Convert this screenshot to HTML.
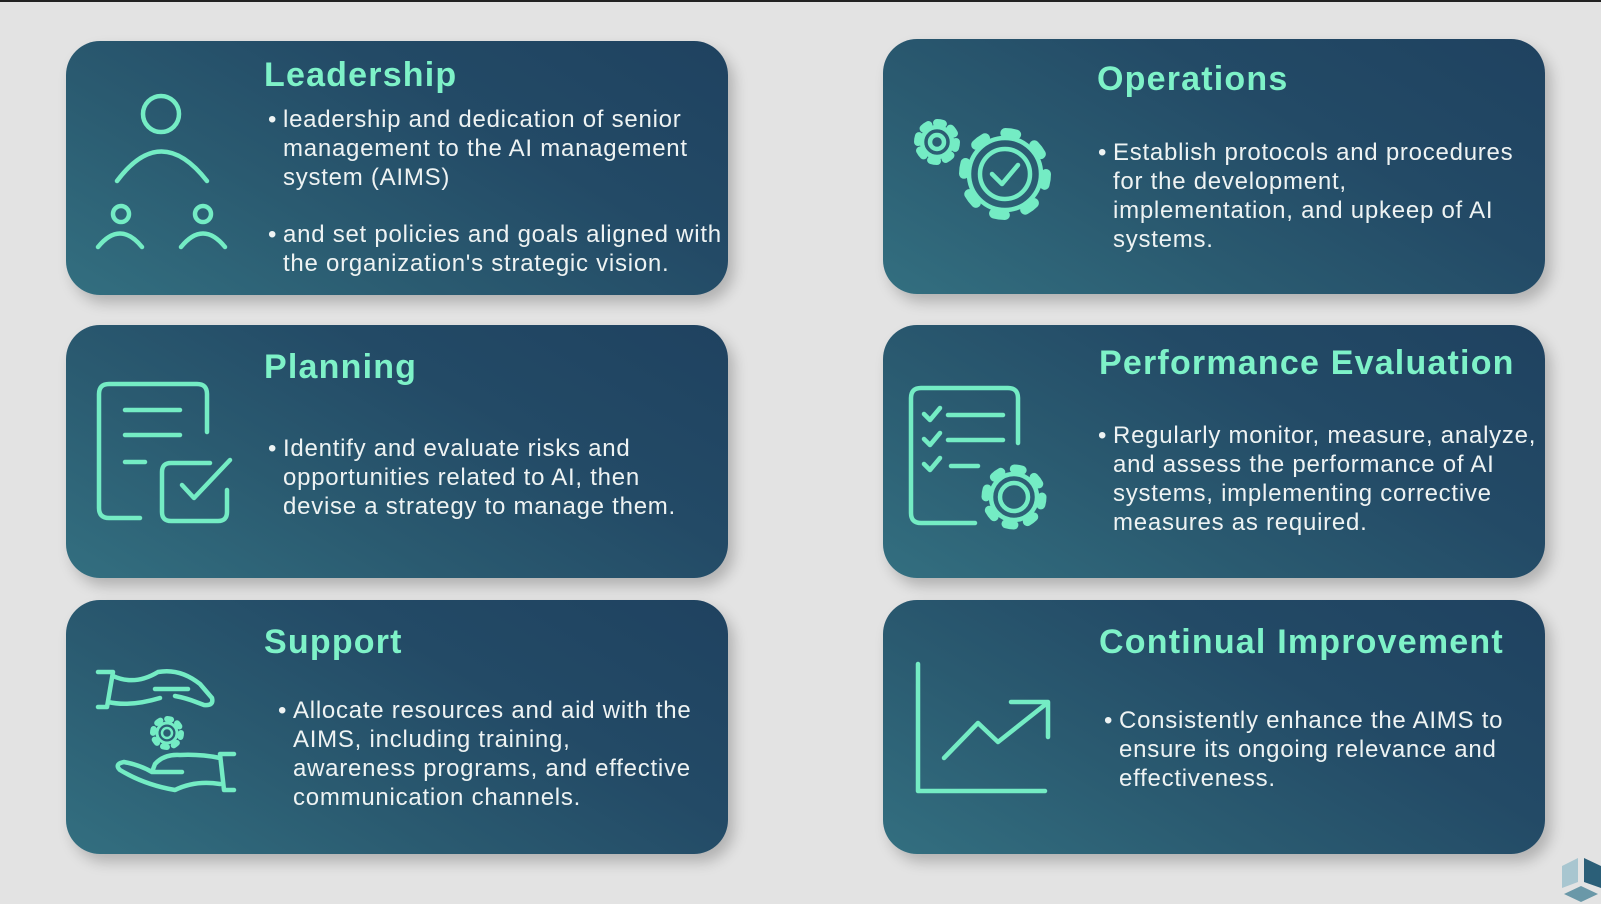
<!DOCTYPE html>
<html><head><meta charset="utf-8"><style>
*{margin:0;padding:0;box-sizing:border-box}
body{width:1601px;height:902px;background:#e3e3e3;position:relative;overflow:hidden;font-family:"Liberation Sans",sans-serif;border-top:2px solid #222}
.card{position:absolute;border-radius:34px;background:linear-gradient(30deg,#336f80 0%,#2a5a70 35%,#234a66 65%,#1f4260 100%);box-shadow:6px 8px 14px rgba(0,0,0,0.22)}
.t{position:absolute;color:#7ef2c8;font-weight:bold;font-size:34px;letter-spacing:1.2px;white-space:nowrap}
.b{position:absolute;color:#eef3f3;font-size:24px;letter-spacing:0.75px;line-height:29px;white-space:nowrap}
.b span{position:absolute;left:-15px}
svg{position:absolute;left:0;top:0}
</style></head><body>
<div class="card" style="left:66px;top:39px;width:662px;height:254px"></div>
<div class="card" style="left:883px;top:37px;width:662px;height:255px"></div>
<div class="card" style="left:66px;top:323px;width:662px;height:253px"></div>
<div class="card" style="left:883px;top:323px;width:662px;height:253px"></div>
<div class="card" style="left:66px;top:598px;width:662px;height:254px"></div>
<div class="card" style="left:883px;top:598px;width:662px;height:254px"></div>

<div class="t" style="left:264px;top:54px">Leadership</div>
<div class="b" style="left:283px;top:103px"><span>•</span>leadership and dedication of senior<br>management to the AI management<br>system (AIMS)</div>
<div class="b" style="left:283px;top:218px"><span>•</span>and set policies and goals aligned with<br>the organization's strategic vision.</div>

<div class="t" style="left:1097px;top:58px">Operations</div>
<div class="b" style="left:1113px;top:136px"><span>•</span>Establish protocols and procedures<br>for the development,<br>implementation, and upkeep of AI<br>systems.</div>

<div class="t" style="left:264px;top:346px">Planning</div>
<div class="b" style="left:283px;top:432px"><span>•</span>Identify and evaluate risks and<br>opportunities related to AI, then<br>devise a strategy to manage them.</div>

<div class="t" style="left:1099px;top:342px">Performance Evaluation</div>
<div class="b" style="left:1113px;top:419px"><span>•</span>Regularly monitor, measure, analyze,<br>and assess the performance of AI<br>systems, implementing corrective<br>measures as required.</div>

<div class="t" style="left:264px;top:621px">Support</div>
<div class="b" style="left:293px;top:694px"><span>•</span>Allocate resources and aid with the<br>AIMS, including training,<br>awareness programs, and effective<br>communication channels.</div>

<div class="t" style="left:1099px;top:621px">Continual Improvement</div>
<div class="b" style="left:1119px;top:704px"><span>•</span>Consistently enhance the AIMS to<br>ensure its ongoing relevance and<br>effectiveness.</div>

<svg width="1601" height="902" fill="none" stroke="#74ecc4" stroke-width="4.5" stroke-linecap="round" stroke-linejoin="round">
<circle cx="161" cy="112" r="18"/>
<path d="M117 179 Q161 120 207 179"/>
<circle cx="121" cy="212" r="8"/><circle cx="203" cy="212" r="8"/>
<path d="M98 245 Q120 218 142 245"/><path d="M181 245 Q203 218 225 245"/>
<circle cx="937" cy="140" r="15"/>
<circle cx="937" cy="140" r="19" stroke-width="8" stroke-dasharray="6 8.9"/>
<circle cx="937" cy="140" r="7"/>
<circle cx="1005" cy="172" r="36"/>
<circle cx="1005" cy="172" r="41" stroke-width="10" stroke-dasharray="11 21.2"/>
<circle cx="1005" cy="172" r="25"/>
<path d="M992 172 L1002 182 L1018 163"/>
<path d="M140 516 H109 Q99 516 99 506 V392 Q99 382 109 382 H197 Q207 382 207 392 V430"/>
<path d="M125 408 H180 M125 433 H180 M125 460 H145"/>
<path d="M210 461 H171 Q162 461 162 470 V510 Q162 519 171 519 H218 Q227 519 227 510 V488"/>
<path d="M182 483 L194 496 L230 458"/>
<path d="M975 521 H921 Q911 521 911 511 V396 Q911 386 921 386 H1008 Q1018 386 1018 396 V441"/>
<path d="M924 412 L930 418 L940 406 M948 413 H1003"/>
<path d="M924 437 L930 443 L940 431 M948 438 H1003"/>
<path d="M924 462 L930 468 L940 456 M951 464 H978"/>
<circle cx="1014" cy="495" r="23"/>
<circle cx="1014" cy="495" r="28" stroke-width="9" stroke-dasharray="8 14"/>
<circle cx="1014" cy="495" r="14"/>
<path d="M98 670 H113 L107 705 H98 M113 674 Q135 684 158 670 Q180 666 200 682 L212 696 Q214 704 204 703 L196 700 Q186 696 175 694 M155 687 H188 M108 700 Q130 705 160 696"/>
<path d="M234 752 H220 L224 788 H234 M220 756 Q200 752 180 753 Q164 752 155 762 L152 770 H182 M220 782 Q195 778 175 788 Q145 783 120 768 Q114 762 124 760 Q140 763 152 770"/>
<circle cx="167" cy="731" r="10" stroke-width="3"/>
<circle cx="167" cy="731" r="14" stroke-width="6" stroke-dasharray="4 7"/>
<circle cx="167" cy="731" r="5" stroke-width="2.5"/>
<path d="M918 662 V789 H1045"/>
<path d="M944 756 L978 721 L998 740 L1046 702"/>
<path d="M1011 700 H1048 V735"/>
</svg>
<svg width="1601" height="902">
<polygon points="1562,864 1578,856 1578,880 1562,886" fill="#a8c6d0"/>
<polygon points="1584,856 1601,864 1601,886 1584,880" fill="#2b5f78"/>
<polygon points="1564,892 1581,884 1598,892 1581,900" fill="#6a98a8"/>
</svg>
</body></html>
